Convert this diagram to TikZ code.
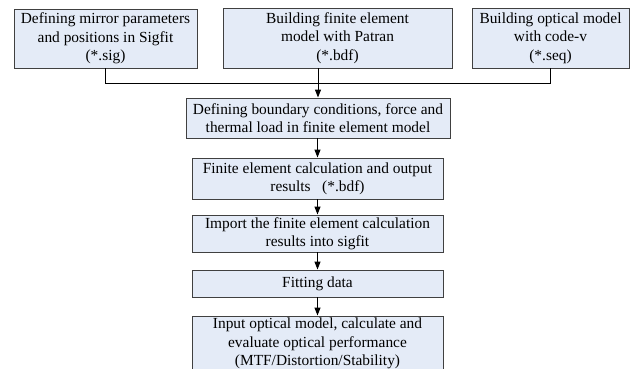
\documentclass[tikz,border=0pt]{standalone}
\usepackage{fontspec}
\setmainfont{Liberation Serif}
\usepackage{xcolor}
\usetikzlibrary{arrows.meta, positioning}
\definecolor{boxfill}{RGB}{228,235,247}
\definecolor{boxline}{RGB}{64,64,64}

\begin{document}
\begin{tikzpicture}[
    x=1pt, y=-1pt,
    >={Triangle[length=8pt, width=6pt]},
    % Styles for the flow chart
    step box/.style={draw=boxline, line width=0.9pt, fill=boxfill, align=center,
        inner sep=0pt, font=\fontsize{15.4}{18.3}\selectfont},
    link/.style={draw=black, line width=1pt}
]
    \useasboundingbox (0,0) rectangle (630,368);

    % 1. The three input models (top row)
    \node[step box, minimum width=183pt, minimum height=59pt] (sig) at (105.5,38.5)
        {Defining mirror parameters\\and positions in Sigfit\\(*.sig)};
    \node[step box, minimum width=229pt, minimum height=60pt] (fem) at (337.5,38)
        {Building finite element\\model with Patran\\(*.bdf)};
    \node[step box, minimum width=157pt, minimum height=60pt] (seq) at (550.5,38)
        {Building optical model\\with code-v\\(*.seq)};

    % 2. The processing chain
    \node[step box, minimum width=264pt, minimum height=40pt] (load) at (318,118)
        {Defining boundary conditions, force and\\thermal load in finite element model};
    \node[step box, minimum width=251pt, minimum height=41pt] (calc) at (317.5,178.5)
        {Finite element calculation and output\\results\ \ \ (*.bdf)};
    \node[step box, minimum width=251pt, minimum height=37pt] (import) at (317.5,233.5)
        {Import the finite element calculation\\results into sigfit};
    \node[step box, minimum width=251pt, minimum height=27pt] (fit) at (317.5,283.5)
        {Fitting data};
    \node[step box, minimum width=251pt, minimum height=55pt] (eval) at (317.5,343.5)
        {Input optical model, calculate and\\evaluate optical performance\\(MTF/Distortion/Stability)};

    % 3. Connectors
    \coordinate (join) at (317.5,83);
    \draw[link] (sig.south) |- (join);
    \draw[link] (seq.south) |- (join);
    \draw[link, ->] (fem.south -| load.north) -- (load.north);
    \draw[link, ->] (load.south -| calc.north) -- (calc.north);
    \draw[link, ->] (calc.south) -- (import.north);
    \draw[link, ->] (import.south) -- (fit.north);
    \draw[link, ->] (fit.south) -- (eval.north);

\end{tikzpicture}
\end{document}
